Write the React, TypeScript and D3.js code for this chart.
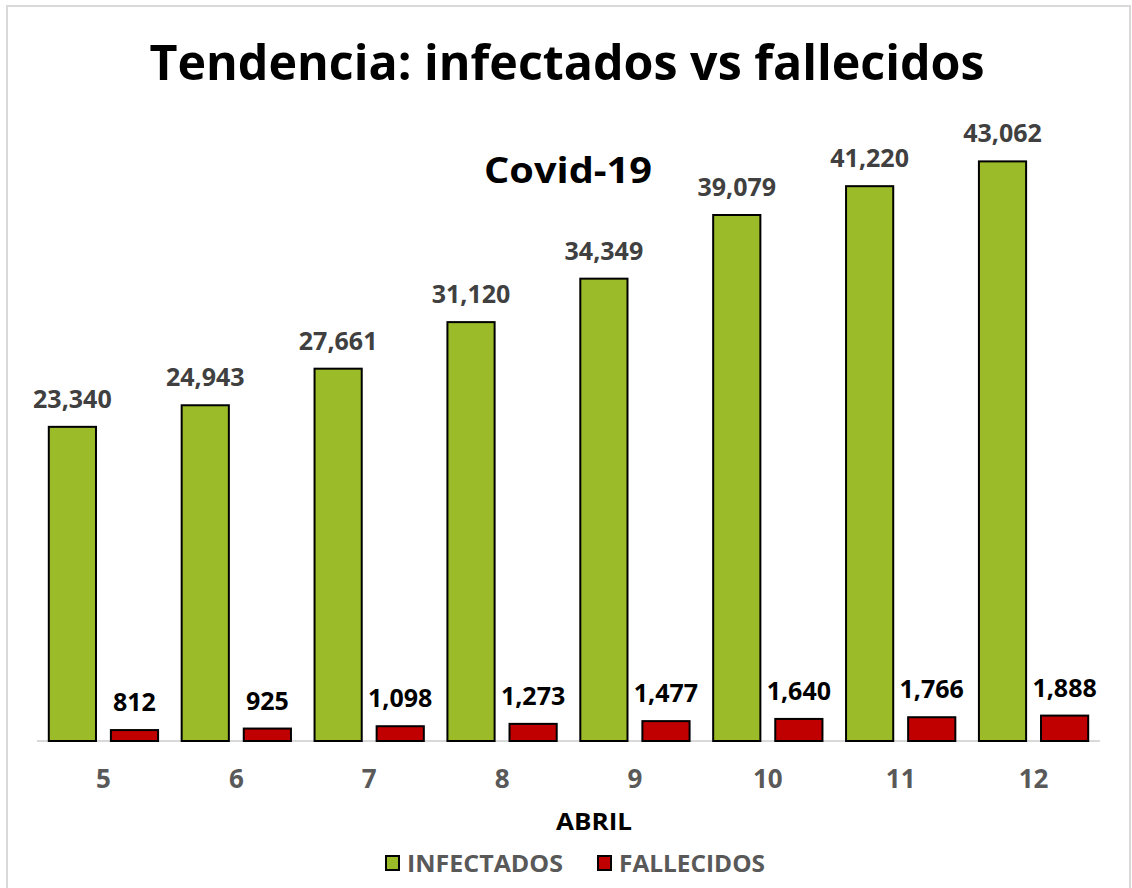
import React from "react";
import * as d3 from "d3";

const width = 1132;
const height = 888;
const margin = { top: 68, right: 32, bottom: 147, left: 37 };

// data
const days = ["5", "6", "7", "8", "9", "10", "11", "12"];
const infectados = [23340, 24943, 27661, 31120, 34349, 39079, 41220, 43062];
const fallecidos = [812, 925, 1098, 1273, 1477, 1640, 1766, 1888];
const seriesNames = ["INFECTADOS", "FALLECIDOS"];

const colors = ["#9bbb28", "#c00000"];
const font = "'Open Sans', sans-serif";

const fmt = d3.format(",");

export default function App() {
  const xScale = d3
    .scaleBand()
    .domain(days)
    .range([margin.left, width - margin.right])
    .padding(0);
  const subScale = d3
    .scaleBand()
    .domain(seriesNames)
    .range([0, xScale.bandwidth()])
    .paddingInner(0.24)
    .paddingOuter(0.19);
  const yScale = d3
    .scaleLinear()
    .domain([0, 50000])
    .range([height - margin.bottom, margin.top]);

  const base = yScale(0);
  const series = [infectados, fallecidos];
  const labelColors = ["#404040", "#000000"];

  return (
    <svg
      width={width}
      height={height}
      style={{ position: "absolute", left: 0, top: 0, background: "#fff" }}
    >
      <rect
        x={7}
        y={6}
        width={1123}
        height={900}
        fill="#fff"
        stroke="#d9d9d9"
        strokeWidth={2}
      />
      <text
        x={567}
        y={80}
        textAnchor="middle"
        fontFamily={font}
        fontWeight={700}
        fontSize={48}
        textLength={835}
        lengthAdjust="spacingAndGlyphs"
        fill="#000"
      >
        Tendencia: infectados vs fallecidos
      </text>
      <text
        x={568}
        y={183}
        textAnchor="middle"
        fontFamily={font}
        fontWeight={700}
        fontSize={36}
        textLength={168}
        lengthAdjust="spacingAndGlyphs"
        fill="#000"
      >
        Covid-19
      </text>

      <line
        x1={margin.left}
        x2={width - margin.right}
        y1={base}
        y2={base}
        stroke="#d9d9d9"
        strokeWidth={2}
      />

      {days.map((d, i) => (
        <g key={d}>
          {series.map((vals, s) => {
            const x = (xScale(d) || 0) + (subScale(seriesNames[s]) || 0);
            const y = yScale(vals[i]);
            return (
              <g key={s}>
                <rect
                  x={x}
                  y={y}
                  width={subScale.bandwidth()}
                  height={base - y}
                  fill={colors[s]}
                  stroke="#000"
                  strokeWidth={2}
                />
                <text
                  x={x + subScale.bandwidth() / 2}
                  y={y - 19}
                  textAnchor="middle"
                  fontFamily={font}
                  fontWeight={700}
                  fontSize={25}
                  fill={labelColors[s]}
                >
                  {fmt(vals[i])}
                </text>
              </g>
            );
          })}
          <text
            x={(xScale(d) || 0) + xScale.bandwidth() / 2}
            y={788}
            textAnchor="middle"
            fontFamily={font}
            fontWeight={700}
            fontSize={26}
            fill="#595959"
          >
            {d}
          </text>
        </g>
      ))}

      <text
        x={594}
        y={830}
        textAnchor="middle"
        fontFamily={font}
        fontWeight={700}
        fontSize={24}
        textLength={76}
        lengthAdjust="spacingAndGlyphs"
        fill="#000"
      >
        ABRIL
      </text>

      {seriesNames.map((name, s) => {
        const lx = [386, 598][s];
        return (
          <g key={name}>
            <rect
              x={lx}
              y={856}
              width={13}
              height={14}
              fill={colors[s]}
              stroke="#000"
              strokeWidth={2}
            />
            <text
              x={lx + 21}
              y={872}
              fontFamily={font}
              fontWeight={700}
              fontSize={23}
              textLength={[156, 146][s]}
              lengthAdjust="spacingAndGlyphs"
              fill="#595959"
            >
              {name}
            </text>
          </g>
        );
      })}
    </svg>
  );
}
